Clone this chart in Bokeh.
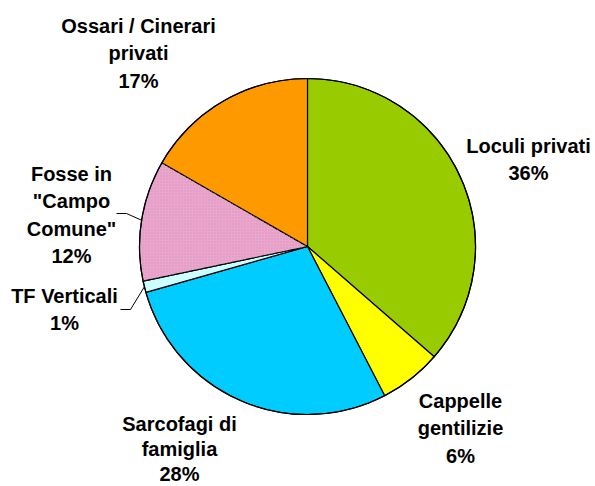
import math
from bokeh.plotting import figure
from bokeh.models import Range1d, ColumnDataSource
from bokeh.core.properties import value
from bokeh.embed import file_html
from bokeh.resources import INLINE

# ---- data ----
categories = ["Loculi privati", "Cappelle gentilizie", "Sarcofagi di famiglia",
              "TF Verticali", "Fosse in \"Campo Comune\"", "Ossari / Cinerari privati"]
shares = [36.4, 6.0, 28.2, 1.1, 11.6, 16.7]
colors = ["#99CC00", "#FFFF00", "#00CCFF", "#CCFFFF", "#F2A2CE", "#FF9900"]
label_lines = [["Loculi privati"], ["Cappelle", "gentilizie"], ["Sarcofagi di", "famiglia"],
               ["TF Verticali"], ["Fosse in", "\"Campo", "Comune\""], ["Ossari / Cinerari", "privati"]]

# ---- layout (pixel-like units, origin at pie centre) ----
W, H = 595, 486
CX, CY = 307, 246          # pie centre within the figure, from its top-left
R = 168
# label block centres (x, y of first line) relative to centre, y up
label_pos = [(221, 101), (153, -154), (-128, -177), (-243, -49), (-236, 73), (-169, 221)]
LINE_H = 27.5
line_h = [LINE_H, LINE_H, 25.0, LINE_H, LINE_H, LINE_H]
leader = [False, False, False, True, True, False]
leader_elbow = [None, None, None, (-177, -63), (-181, 33), None]

p = figure(width=W, height=H, output_backend="svg", toolbar_location=None,
           x_range=Range1d(-CX, W - CX), y_range=Range1d(CY - H, CY),
           min_border=0, outline_line_color=None)
p.axis.visible = False
p.grid.visible = False
p.background_fill_color = "white"
p.border_fill_color = "white"

total = sum(shares)
starts, ends, mids = [], [], []
cum = 0.0
for s in shares:
    a0 = math.pi / 2 - 2 * math.pi * (cum + s) / total
    a1 = math.pi / 2 - 2 * math.pi * cum / total
    starts.append(a0)
    ends.append(a1)
    mids.append((a0 + a1) / 2)
    cum += s

src = ColumnDataSource(dict(start=starts, end=ends, color=colors))
p.wedge(x=0, y=0, radius=R, start_angle="start", end_angle="end", source=src,
        fill_color="color", line_color="black", line_width=1.2)
# dotted texture for the pink slice
i = 4
p.wedge(x=0, y=0, radius=R, start_angle=starts[i], end_angle=ends[i],
        fill_alpha=0, line_color=None, hatch_pattern=".", hatch_color="#B9A7B4",
        hatch_scale=3, hatch_weight=1)
p.circle(x=0, y=0, radius=R, fill_color=None, line_color="black", line_width=1.2)

# labels
xs, ys, txt = [], [], []
for k, lines in enumerate(label_lines):
    allines = lines + [f"{round(shares[k])}%"]
    lx, ly = label_pos[k]
    for j, t in enumerate(allines):
        xs.append(lx)
        ys.append(ly - j * line_h[k])
        txt.append(t)
p.text(x=xs, y=ys, text=txt, text_font=value("Liberation Sans"), text_font_style="bold",
       text_font_size="20px", text_align="center", text_baseline="middle", text_color="black")

# leader lines
for k in range(len(shares)):
    if leader[k]:
        ex, ey = leader_elbow[k]
        px = R * math.cos(mids[k])
        py = R * math.sin(mids[k])
        p.line(x=[ex - 10, ex, px], y=[ey, ey, py], line_color="black", line_width=1)

open("out.html", "w").write(file_html(p, INLINE))
